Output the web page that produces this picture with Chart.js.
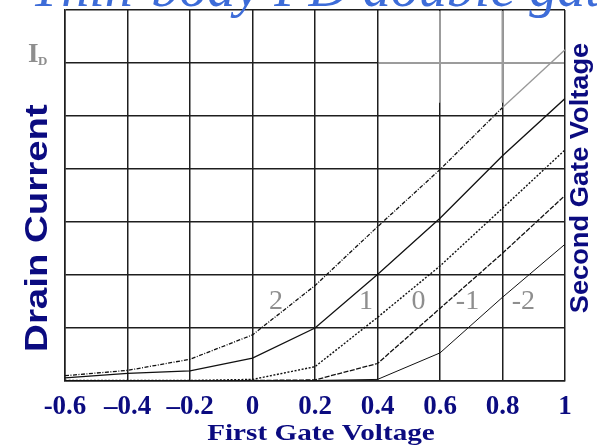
<!DOCTYPE html>
<html>
<head>
<meta charset="utf-8">
<script src="https://cdn.jsdelivr.net/npm/chart.js@4.4.0/dist/chart.umd.min.js"></script>
<style>
  html, body { margin: 0; padding: 0; background: #fff; }
  #wrap { width: 597px; height: 448px; }
</style>
</head>
<body>
<div id="wrap"><canvas id="chart"></canvas></div>
<script>
// first gate voltage (x) and tick texts
const xValues = [-0.6, -0.4, -0.2, 0, 0.2, 0.4, 0.6, 0.8, 1.0];
const xTickLabels = ['-0.6', '\u20130.4', '\u20130.2', '0', '0.2', '0.4', '0.6', '0.8', '1'];

// second gate voltage of each curve
const secondGateLabels = ['2', '1', '0', '-1', '-2'];

// drain current (one grid square = 1)
const idVg2Plus2  = [0.10, 0.20, 0.41, 0.87, 1.80, 2.91, 3.99, 5.16, 6.25];
const idVg2Plus1  = [0.06, 0.145, 0.19, 0.43, 1.00, 2.01, 3.07, 4.25, 5.33];
const idVg2Zero   = [0.01, 0.01, 0.01, 0.03, 0.27, 1.20, 2.17, 3.26, 4.36];
const idVg2Minus1 = [0.00, 0.00, 0.00, 0.01, 0.02, 0.33, 1.37, 2.41, 3.50];
const idVg2Minus2 = [0.00, 0.00, 0.00, 0.00, 0.01, 0.03, 0.53, 1.58, 2.58];

const NAVY = '#0b0b80';
const GRID = '#1e1e1e';
const GREY = '#8e8e8e';

const curves = [idVg2Plus2, idVg2Plus1, idVg2Zero, idVg2Minus1, idVg2Minus2];
const dashes = [[4, 1.5, 1, 1.5], [], [2, 1.6], [5, 1.5], []];
const widths = [1.3, 1.3, 1.4, 1.3, 1];

const datasets = curves.map((vals, i) => ({
  label: 'V2 = ' + secondGateLabels[i],
  data: vals.map((v, j) => ({ x: xValues[j], y: v })),
  borderColor: '#111',
  borderWidth: widths[i],
  borderDash: dashes[i],
  pointRadius: 0,
  tension: 0,
  segment: i === 0 ? {
    borderColor: ctx => ctx.p0.parsed.x >= 0.8 - 1e-9 ? '#999' : '#111',
    borderDash: ctx => ctx.p0.parsed.x >= 0.8 - 1e-9 ? [] : dashes[0]
  } : undefined
}));

// where the curve names sit (data coordinates)
const nameX = [0.075, 0.363, 0.531, 0.688, 0.867];
const nameY = 1.49;

function stretchedText(ctx, text, cx, cy, angle, font, color, stretch, baseline) {
  ctx.save();
  ctx.translate(cx, cy);
  ctx.rotate(angle);
  ctx.scale(stretch, 1);
  ctx.font = font;
  ctx.fillStyle = color;
  ctx.textAlign = 'center';
  ctx.textBaseline = baseline || 'middle';
  ctx.fillText(text, 0, 0);
  ctx.restore();
}

const decorations = {
  id: 'decorations',
  beforeDatasetsDraw(chart) {
    const { ctx, scales: { x, y } } = chart;
    // the lighter part of the grid in the upper right corner
    ctx.save();
    ctx.strokeStyle = '#9c9c9c';
    ctx.lineWidth = 2;
    ctx.beginPath();
    ctx.moveTo(x.getPixelForValue(0.4) + 1, y.getPixelForValue(6));
    ctx.lineTo(x.getPixelForValue(1) - 1, y.getPixelForValue(6));
    [0.6, 0.8].forEach(v => {
      ctx.moveTo(x.getPixelForValue(v), y.getPixelForValue(7) + 1);
      ctx.lineTo(x.getPixelForValue(v), y.getPixelForValue(5.25));
    });
    ctx.stroke();
    ctx.restore();
  },
  afterDraw(chart) {
    const { ctx, scales: { x, y } } = chart;
    ctx.save();

    // curve names
    ctx.font = '28px "Liberation Serif"';
    ctx.fillStyle = GREY;
    ctx.textAlign = 'center';
    ctx.textBaseline = 'middle';
    secondGateLabels.forEach((t, i) => {
      ctx.fillText(t, x.getPixelForValue(nameX[i]), y.getPixelForValue(nameY));
    });

    // I_D
    ctx.textAlign = 'left';
    ctx.textBaseline = 'alphabetic';
    ctx.font = 'bold 27px "Liberation Serif"';
    ctx.fillText('I', 28, 62);
    ctx.font = 'bold 13px "Liberation Serif"';
    ctx.fillText('D', 38, 65);

    // title, mostly cut off by the top edge
    ctx.font = 'italic 56px "Liberation Serif"';
    ctx.fillStyle = '#3d6cd8';
    ctx.fillText('Thin-body FD double gate', 30, 6);

    ctx.restore();

    stretchedText(ctx, 'First Gate Voltage', 321, 440, 0,
      'bold 23px "Liberation Serif"', NAVY, 1.27, 'alphabetic');
    stretchedText(ctx, 'Drain Current', 38, 228, -Math.PI / 2,
      'bold 31px "Liberation Sans"', NAVY, 1.24);
    stretchedText(ctx, 'Second Gate Voltage', 581, 178, -Math.PI / 2,
      'bold 25px "Liberation Sans"', NAVY, 1.09);
  }
};

new Chart(document.getElementById('chart'), {
  type: 'line',
  data: { datasets },
  options: {
    responsive: true,
    maintainAspectRatio: false,
    animation: false,
    layout: { padding: { left: 65, right: 32, top: 10, bottom: 0 } },
    plugins: { legend: { display: false }, tooltip: { enabled: false } },
    scales: {
      x: {
        type: 'linear',
        min: -0.6,
        max: 1,
        afterBuildTicks: s => { s.ticks = xValues.map(v => ({ value: v })); },
        afterFit: s => { s.height = 67; },
        grid: { color: GRID, lineWidth: 1.5, drawTicks: false },
        border: { color: GRID, width: 1.5 },
        ticks: {
          callback: (v, i) => xTickLabels[i],
          color: NAVY,
          padding: 10,
          maxRotation: 0,
          font: { family: 'Liberation Serif', weight: 'bold', size: 27 }
        },
        title: { display: false }
      },
      y: {
        min: 0,
        max: 7,
        ticks: { display: false, stepSize: 1 },
        grid: { color: GRID, lineWidth: 1.5, drawTicks: false },
        border: { color: GRID, width: 1.5 }
      }
    }
  },
  plugins: [decorations]
});
</script>
</body>
</html>
